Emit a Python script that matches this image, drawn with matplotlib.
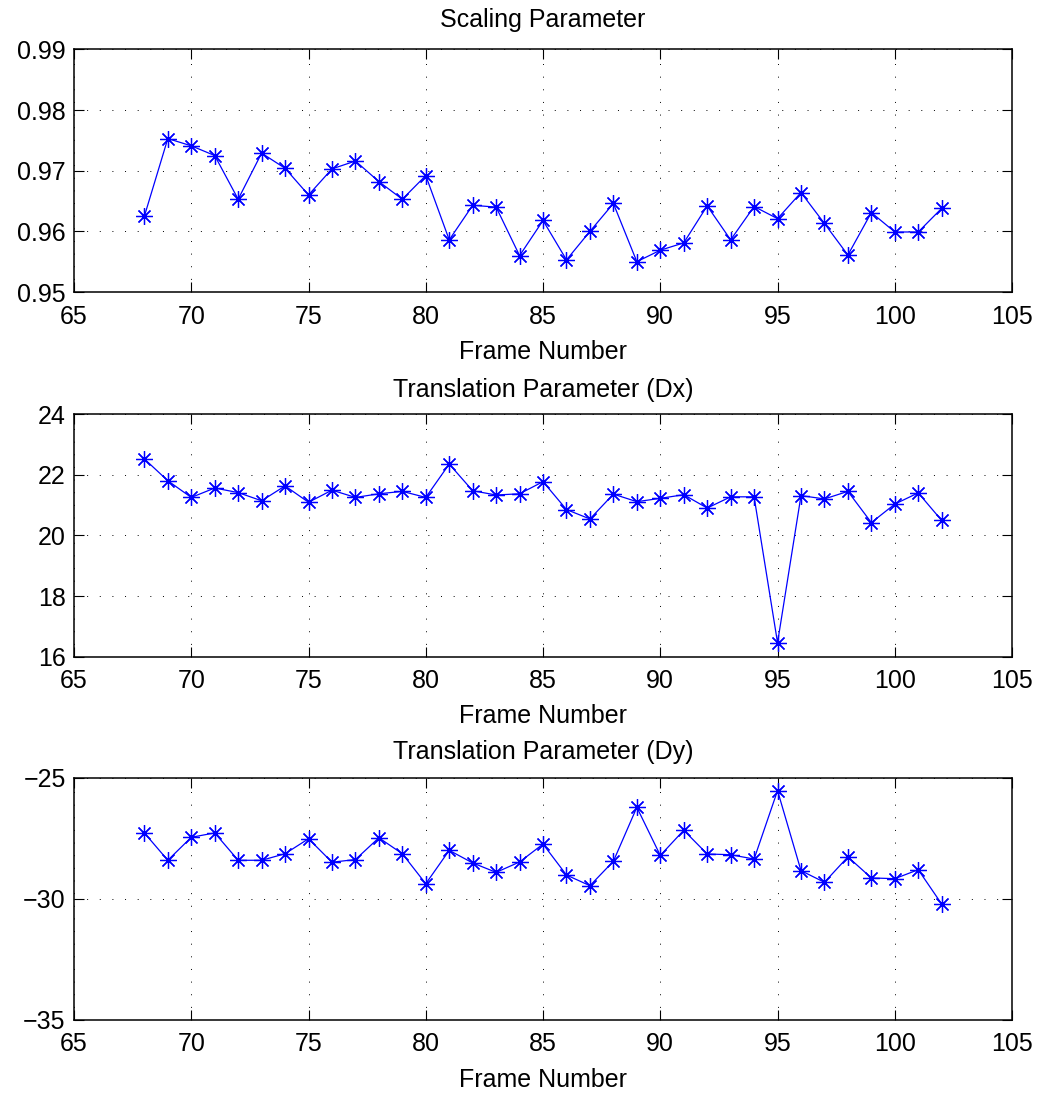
import matplotlib
matplotlib.use("Agg")
import matplotlib.pyplot as plt
import numpy as np

plt.rcParams['font.family'] = ['Liberation Sans', 'DejaVu Sans']

frames = list(range(68, 103))

scaling = [0.9625, 0.9753, 0.9741, 0.9725, 0.9653, 0.9729, 0.9704, 0.9660,
           0.9703, 0.9716, 0.9682, 0.9653, 0.9692, 0.9586, 0.9643, 0.9640,
           0.9560, 0.9618, 0.9553, 0.9600, 0.9646, 0.9550, 0.9569, 0.9581,
           0.9642, 0.9586, 0.9641, 0.9621, 0.9664, 0.9613, 0.9561, 0.9631,
           0.9599, 0.9599, 0.9638]

dx = [22.52, 21.80, 21.25, 21.56, 21.41, 21.14, 21.63, 21.09, 21.49, 21.25,
      21.37, 21.45, 21.25, 22.35, 21.47, 21.33, 21.37, 21.77, 20.85, 20.54,
      21.36, 21.11, 21.22, 21.34, 20.90, 21.27, 21.27, 16.46, 21.31, 21.20,
      21.45, 20.42, 21.03, 21.40, 20.49]

dy = [-27.27, -28.40, -27.45, -27.27, -28.40, -28.40, -28.13, -27.51, -28.48,
      -28.37, -27.47, -28.13, -29.37, -27.99, -28.51, -28.90, -28.47, -27.73,
      -29.01, -29.45, -28.44, -26.21, -28.20, -27.16, -28.14, -28.17, -28.35,
      -25.52, -28.83, -29.31, -28.26, -29.13, -29.16, -28.79, -30.21]

titles = ["Scaling Parameter", "Translation Parameter (Dx)", "Translation Parameter (Dy)"]
series = [scaling, dx, dy]
ylims = [(0.95, 0.99), (16, 24), (-35, -25)]
yticks = [[0.95, 0.96, 0.97, 0.98, 0.99], [16, 18, 20, 22, 24], [-35, -30, -25]]
xticks = [65, 70, 75, 80, 85, 90, 95, 100, 105]

# axes boxes in figure fractions (left, bottom, width, height)
boxes = [(0.0709, 0.7333, 0.8985, 0.2216),
         (0.0709, 0.4003, 0.8985, 0.2216),
         (0.0709, 0.0685, 0.8985, 0.2210)]
title_pads = [16, 12.5, 14]


def main():
    fig = plt.figure(figsize=(10.44, 10.95), dpi=100)
    for i in range(3):
        ax = fig.add_axes(boxes[i])
        ax.plot(frames, series[i], color='blue', linewidth=0.9,
                marker=(8, 2, 0), markersize=12, markeredgewidth=0.9)
        ax.set_xlim(65, 105)
        ax.set_ylim(*ylims[i])
        ax.set_xticks(xticks)
        ax.set_yticks(yticks[i])
        if i == 0:
            ax.set_yticklabels(["%.2f" % v for v in yticks[i]])
        ax.grid(True, color='black', linestyle=(0, (1, 12)), linewidth=0.7)
        ax.tick_params(direction='in', top=True, right=True, length=7,
                       width=0.8, labelsize=18)
        ax.tick_params(axis='x', pad=9)
        ax.tick_params(axis='y', pad=6)
        for s in ax.spines.values():
            s.set_linewidth(1.1)
        ax.set_title(titles[i], fontsize=18, pad=title_pads[i])
        ax.set_xlabel("Frame Number", fontsize=18, labelpad=8)
    fig.savefig("out.png", dpi=100)


if __name__ == "__main__":
    main()
